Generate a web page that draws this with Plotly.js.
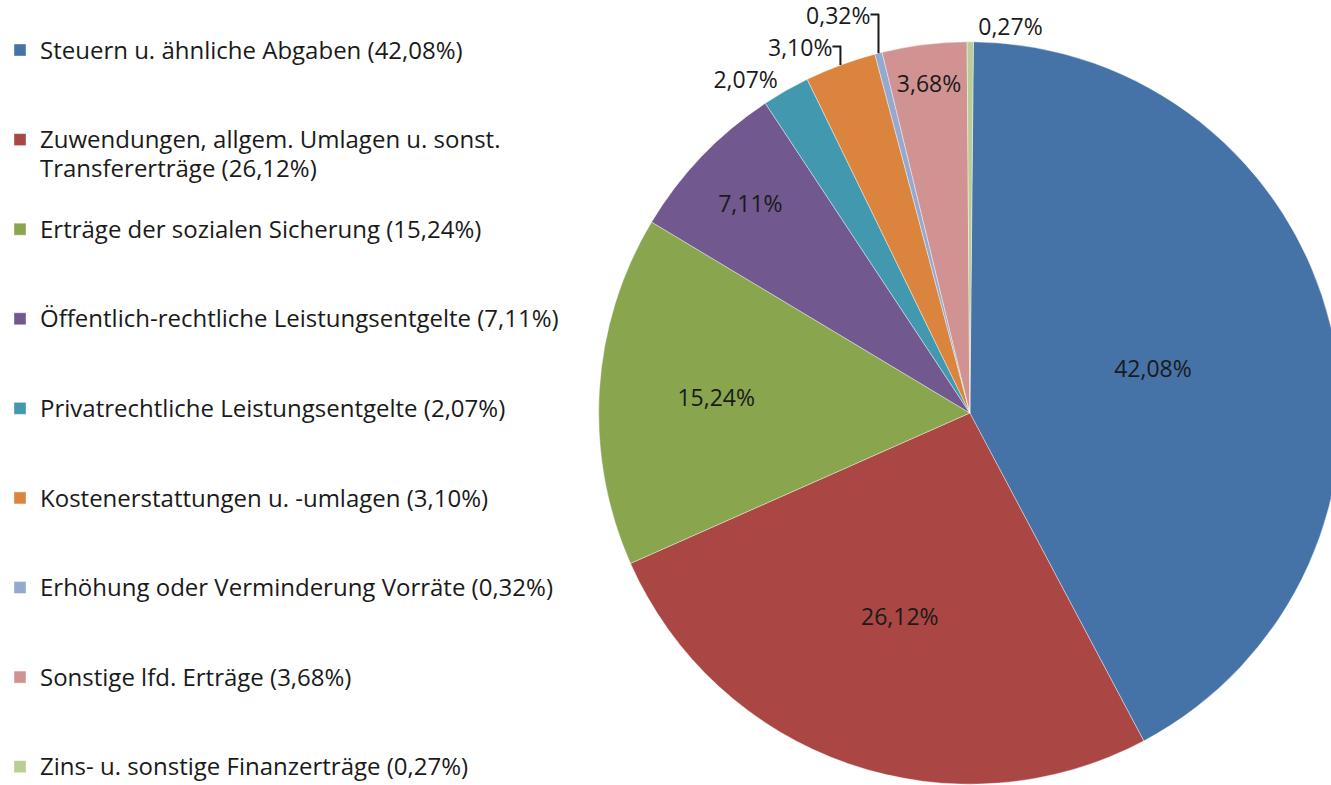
<!DOCTYPE html>
<html><head><meta charset="utf-8">
<script src="https://cdn.plot.ly/plotly-3.0.1.min.js"></script>
<style>html,body{margin:0;padding:0;overflow:hidden;background:#fff}#chart{width:1345px;height:790px}</style>
</head><body><div id="chart"></div>
<script>
const categories = [
  "Steuern u. ähnliche Abgaben",
  "Zuwendungen, allgem. Umlagen u. sonst.<br>Transfererträge",
  "Erträge der sozialen Sicherung",
  "Öffentlich-rechtliche Leistungsentgelte",
  "Privatrechtliche Leistungsentgelte",
  "Kostenerstattungen u. -umlagen",
  "Erhöhung oder Verminderung Vorräte",
  "Sonstige lfd. Erträge",
  "Zins- u. sonstige Finanzerträge"
];
const shares = [42.08, 26.12, 15.24, 7.11, 2.07, 3.10, 0.32, 3.68, 0.27];
const colors = ["#4572A7","#AA4643","#89A54E","#71588F","#4198AF","#DB843D","#93A9CF","#D19392","#B9CD96"];
const textPos = ["inside","inside","inside","inside","outside","outside","outside","inside","outside"];

const fmt = v => v.toFixed(2).replace(".", ",") + "%";
const labels = categories.map((c, i) => {
  const lines = c.split("<br>");
  let txt = lines.map((l, j) => '<span style="font-size:24px">' + l + (j === lines.length - 1 ? " (" + fmt(shares[i]) + ")" : "") + '</span>').join("<br>");
  if (i < categories.length - 1) for (let k = lines.length; k < 3; k++) txt += "<br> ";
  return txt;
});

const FONT = "'Open Sans', sans-serif";
const trace = {
  type: "pie",
  labels: labels,
  values: shares,
  text: shares.map(fmt),
  texttemplate: "%{text}",
  textinfo: "text",
  hoverinfo: "text",
  sort: false,
  direction: "clockwise",
  rotation: 0.55,
  marker: {colors: colors, line: {color: "#ffffff", width: 0.4}},
  textposition: textPos,
  insidetextorientation: "horizontal",
  textfont: {family: FONT, size: 23, color: "#1a1a1a"},
  outsidetextfont: {family: FONT, size: 23, color: "#1a1a1a"},
  domain: {x: [597/1345, 1341/1345], y: [0, 1]}
};

const layout = {
  width: 1345, height: 790,
  margin: {l: 0, r: 0, t: 41, b: 5},
  paper_bgcolor: "#ffffff",
  showlegend: true,
  legend: {
    x: -3/1345, y: 1.016, xanchor: "left", yanchor: "top",
    xref: "paper", yref: "paper",
    valign: "top",
    maxheight: 790,
    font: {family: FONT, size: 22.2, color: "#1a1a1a"},
    bgcolor: "rgba(0,0,0,0)"
  }
};

Plotly.newPlot("chart", [trace], layout, {displayModeBar: false, staticPlot: true});
</script></body></html>
